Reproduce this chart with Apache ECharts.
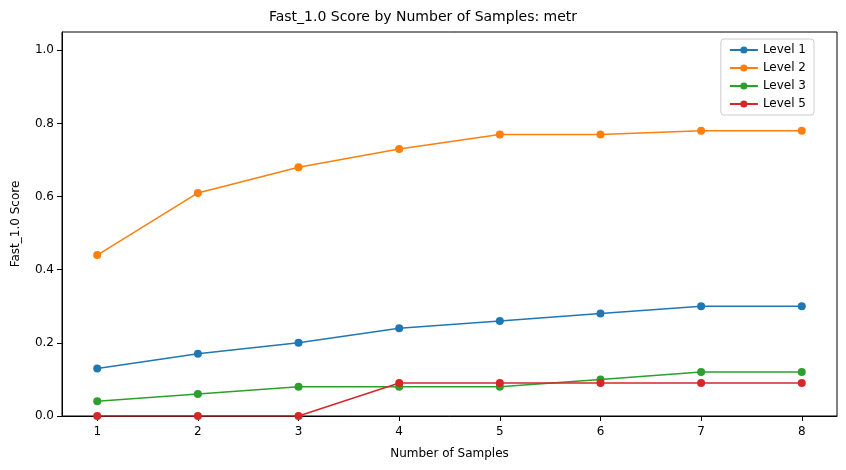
<!DOCTYPE html>
<html>
<head>
<meta charset="utf-8">
<script src="https://cdn.jsdelivr.net/npm/echarts@6/dist/echarts.min.js"></script>
<style>html,body{margin:0;padding:0;background:#fff}#c{width:846px;height:470px}</style>
</head>
<body>
<div id="c"></div>
<script>
const samples = [1, 2, 3, 4, 5, 6, 7, 8]
const level1 = [0.13, 0.17, 0.20, 0.24, 0.26, 0.28, 0.30, 0.30]
const level2 = [0.44, 0.61, 0.68, 0.73, 0.77, 0.77, 0.78, 0.78]
const level3 = [0.04, 0.06, 0.08, 0.08, 0.08, 0.10, 0.12, 0.12]
const level5 = [0, 0, 0, 0.09, 0.09, 0.09, 0.09, 0.09]
const yTicks = [0, 0.2, 0.4, 0.6, 0.8, 1.0]

const font = 'DejaVu Sans'
const mk = (name, data, color) => ({
  name, type: 'line', data: samples.map((s, i) => [s, data[i]]),
  symbol: 'circle', symbolSize: 8, color,
  lineStyle: { width: 1.5, color }, itemStyle: { color }
})

const chart = echarts.init(document.getElementById('c'))
chart.setOption({
  animation: false,
  textStyle: { fontFamily: font },
  title: { text: 'Fast_1.0 Score by Number of Samples: metr', left: 'center', top: 5,
    textStyle: { fontFamily: font, fontSize: 14, fontWeight: 'normal', color: '#000' } },
  legend: {
    top: 39, right: 32, orient: 'vertical', itemGap: 6, itemWidth: 28, itemHeight: 9,
    backgroundColor: '#fff', borderColor: '#ccc', borderWidth: 1, borderRadius: 3, padding: [5, 8],
    textStyle: { fontFamily: font, fontSize: 12, color: '#000' }
  },
  grid: { left: 62, right: 9, top: 32, bottom: 54, show: true, borderColor: '#000', borderWidth: 1 },
  xAxis: {
    type: 'value', min: 0.65, max: 8.35, name: 'Number of Samples', nameLocation: 'middle', nameGap: 32,
    nameTextStyle: { fontFamily: font, fontSize: 12, color: '#000' },
    axisLine: { lineStyle: { color: '#000' } }, splitLine: { show: false },
    axisTick: { show: true, customValues: samples, lineStyle: { color: '#000' } },
    axisLabel: { customValues: samples, color: '#000', fontSize: 12, fontFamily: font, margin: 10 }
  },
  yAxis: {
    type: 'value', min: 0, max: 1.05, name: 'Fast_1.0 Score', nameLocation: 'middle', nameGap: 40,
    nameTextStyle: { fontFamily: font, fontSize: 12, color: '#000' },
    axisLine: { show: true, lineStyle: { color: '#000' } }, splitLine: { show: false },
    axisTick: { show: true, customValues: yTicks, lineStyle: { color: '#000' } },
    axisLabel: { customValues: yTicks, color: '#000', fontSize: 12, fontFamily: font, formatter: v => v.toFixed(1) }
  },
  series: [
    mk('Level 1', level1, '#1f77b4'),
    mk('Level 2', level2, '#ff7f0e'),
    mk('Level 3', level3, '#2ca02c'),
    mk('Level 5', level5, '#d62728')
  ]
})
</script>
</body>
</html>
